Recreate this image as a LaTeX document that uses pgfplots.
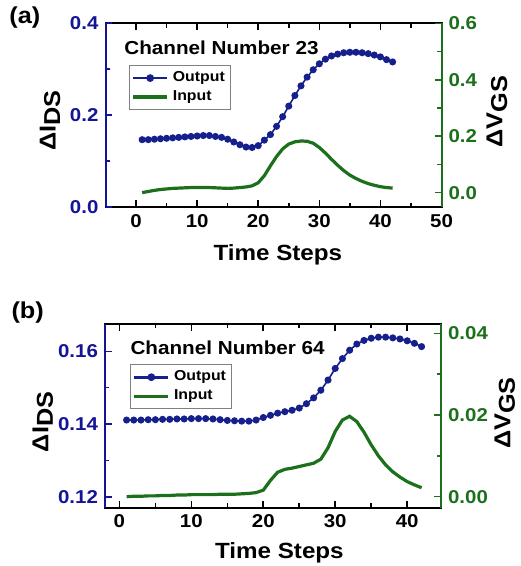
\documentclass[border=0pt]{standalone}
\usepackage{fontspec}
\setmainfont{Liberation Sans}[FakeStretch=1.1]
\usepackage{pgfplots}
\pgfplotsset{compat=1.18}
\definecolor{oblue}{RGB}{22,32,140}
\definecolor{ogreen}{RGB}{28,112,28}
\definecolor{spblue}{RGB}{20,20,150}

\tikzset{
  lab/.style={font=\fontsize{11}{13}\selectfont\bfseries},
  plab/.style={font=\fontsize{11.5}{13}\selectfont\bfseries},
  ylab/.style={rotate=90, font=\fontsize{11.5}{13}\selectfont\bfseries},
  ttl/.style={anchor=west, font=\fontsize{9.4}{11}\selectfont\bfseries},
  tk/.style={line width=0.8pt},
}
\pgfplotsset{
  panel/.style={scale only axis, width=168pt, height=92pt, clip=false,
    tick align=inside, major tick length=0.12cm, minor tick length=0.07cm,
    tick style={black, line width=0.8pt},
    /pgf/number format/assume math mode=true,
    tick label style={font=\fontsize{9.3}{10}\selectfont\bfseries},
    scaled ticks=false,
  },
  leftax/.style={panel, axis line style={line width=1pt},
    xtick pos=both, xticklabel pos=lower, ytick pos=left,
    yticklabel style={text=spblue},
  },
  rightax/.style={panel, hide x axis, axis line style={draw=none},
    ytick pos=right, yticklabel pos=right,
    tick style={ogreen, line width=0.8pt},
    yticklabel style={text=ogreen},
    legend cell align=left,
    legend style={draw=gray, line width=0.5pt, fill=white, inner sep=1pt,
      font=\fontsize{7.2}{9}\selectfont\bfseries, row sep=-1pt},
  },
  p1/.style={/pgf/number format/fixed, /pgf/number format/fixed zerofill, /pgf/number format/precision=1},
  p2/.style={/pgf/number format/fixed, /pgf/number format/fixed zerofill, /pgf/number format/precision=2},
  outp/.style={oblue, line width=0.8pt, mark=*, mark size=1.35pt},
  outleg/.style={oblue, line width=1.4pt, mark=*, mark size=1.2pt},
  inp/.style={ogreen, line width=1.6pt},
}

\begin{document}
\begin{tikzpicture}
\useasboundingbox (-52.75pt,-179.35pt) rectangle (207.25pt,103.65pt);

% ---------- (a) ----------
\begin{axis}[leftax, xmin=-5, xmax=50, ymin=0, ymax=0.4,
  xtick={0,10,...,50}, minor xtick={5,15,...,45},
  ytick={0,0.2,0.4}, minor ytick={0.1,0.3}, y tick label style={p1}]
\addplot[outp] coordinates {
(1,0.147) (2,0.147) (3,0.148) (4,0.149) (5,0.150) (6,0.151) (7,0.152) (8,0.153)
(9,0.154) (10,0.155) (11,0.156) (12,0.156) (13,0.154) (14,0.152) (15,0.148) (16,0.142)
(17,0.136) (18,0.131) (19,0.130) (20,0.134) (21,0.146) (22,0.158) (23,0.176) (24,0.197)
(25,0.220) (26,0.243) (27,0.264) (28,0.283) (29,0.299) (30,0.312) (31,0.322) (32,0.329)
(33,0.333) (34,0.336) (35,0.337) (36,0.337) (37,0.336) (38,0.334) (39,0.331) (40,0.327)
(41,0.321) (42,0.316)};
\pgfplotsinvokeforeach{0,10,20,30,40,50}{\draw[tk] (axis cs:#1,0) -- ([yshift=3.4pt]axis cs:#1,0) (axis cs:#1,0.4) -- ([yshift=-3.4pt]axis cs:#1,0.4);}
\pgfplotsinvokeforeach{5,15,25,35,45}{\draw[tk] (axis cs:#1,0) -- ([yshift=2.2pt]axis cs:#1,0) (axis cs:#1,0.4) -- ([yshift=-2.2pt]axis cs:#1,0.4);}
\pgfplotsinvokeforeach{0,0.2,0.4}{\draw[tk, spblue] (axis cs:-5,#1) -- ([xshift=3.4pt]axis cs:-5,#1);}
\pgfplotsinvokeforeach{0.1,0.3}{\draw[tk, spblue] (axis cs:-5,#1) -- ([xshift=2.2pt]axis cs:-5,#1);}
\node[ttl] at (rel axis cs:0.035,0.866) {Channel Number 23};
\node[lab] at (rel axis cs:0.513,-0.26) {Time Steps};
\node[ylab] at (rel axis cs:-0.165,0.47) {ΔI\raisebox{-0.2em}{DS}};
\node[plab] at (rel axis cs:-0.24,1.03) {(a)};
\end{axis}
\begin{axis}[rightax, xmin=-5, xmax=50, ymin=-0.052, ymax=0.6,
  ytick={0,0.2,0.4,0.6}, minor ytick={0.1,0.3,0.5}, y tick label style={p1},
  legend style={at={(rel axis cs:0.07,0.773)}, anchor=north west}]
\draw[spblue, line width=1pt] (rel axis cs:0,0) -- (rel axis cs:0,1);
\draw[ogreen, line width=1pt] (rel axis cs:1,0) -- (rel axis cs:1,1);
\pgfplotsinvokeforeach{0,0.2,0.4,0.6}{\draw[tk, ogreen] (axis cs:50,#1) -- ([xshift=-3.4pt]axis cs:50,#1);}
\pgfplotsinvokeforeach{0.1,0.3,0.5}{\draw[tk, ogreen] (axis cs:50,#1) -- ([xshift=-2.2pt]axis cs:50,#1);}
\addlegendimage{outleg}
\addlegendentry{Output}
\addplot[inp] coordinates {
(1,0.000) (2,0.004) (3,0.008) (4,0.011) (5,0.013) (6,0.015) (7,0.016) (8,0.017)
(9,0.018) (10,0.018) (11,0.018) (12,0.018) (13,0.017) (14,0.016) (15,0.015) (16,0.016)
(17,0.018) (18,0.020) (19,0.024) (20,0.035) (21,0.060) (22,0.095) (23,0.128) (24,0.155)
(25,0.172) (26,0.180) (27,0.183) (28,0.182) (29,0.175) (30,0.160) (31,0.140) (32,0.118)
(33,0.097) (34,0.078) (35,0.062) (36,0.050) (37,0.040) (38,0.032) (39,0.026) (40,0.021)
(41,0.018) (42,0.016)};
\addlegendentry{Input}
\node[ylab] at (rel axis cs:1.165,0.519) {ΔV\raisebox{-0.2em}{GS}};
\end{axis}

% ---------- (b) ----------
\begin{axis}[leftax, at={(-0.25pt,-150.2pt)}, xmin=-2, xmax=44.7, ymin=0.117, ymax=0.1676,
  xtick={0,10,...,40}, minor xtick={5,15,...,35},
  ytick={0.12,0.14,0.16}, minor ytick={0.13,0.15}, y tick label style={p2}]
\addplot[outp] coordinates {
(1,0.1411) (2,0.1411) (3,0.1411) (4,0.1412) (5,0.1412) (6,0.1413) (7,0.1413) (8,0.1414)
(9,0.1414) (10,0.1415) (11,0.1415) (12,0.1415) (13,0.1414) (14,0.1412) (15,0.1410) (16,0.1409)
(17,0.1408) (18,0.1408) (19,0.1411) (20,0.1418) (21,0.1424) (22,0.1430) (23,0.1434) (24,0.1438)
(25,0.1444) (26,0.1456) (27,0.1472) (28,0.1493) (29,0.1521) (30,0.1553) (31,0.1580) (32,0.1603)
(33,0.1620) (34,0.1630) (35,0.1636) (36,0.1639) (37,0.1639) (38,0.1637) (39,0.1634) (40,0.1629)
(41,0.1622) (42,0.1613)};
\pgfplotsinvokeforeach{0,10,20,30,40}{\draw[tk] (axis cs:#1,0.117) -- ([yshift=3.4pt]axis cs:#1,0.117) (axis cs:#1,0.1676) -- ([yshift=-3.4pt]axis cs:#1,0.1676);}
\pgfplotsinvokeforeach{5,15,25,35}{\draw[tk] (axis cs:#1,0.117) -- ([yshift=2.2pt]axis cs:#1,0.117) (axis cs:#1,0.1676) -- ([yshift=-2.2pt]axis cs:#1,0.1676);}
\pgfplotsinvokeforeach{0.12,0.14,0.16}{\draw[tk, spblue] (axis cs:-2,#1) -- ([xshift=3.4pt]axis cs:-2,#1);}
\pgfplotsinvokeforeach{0.13,0.15}{\draw[tk, spblue] (axis cs:-2,#1) -- ([xshift=2.2pt]axis cs:-2,#1);}
\node[ttl] at (rel axis cs:0.055,0.868) {Channel Number 64};
\node[lab] at (rel axis cs:0.519,-0.246) {Time Steps};
\node[ylab] at (rel axis cs:-0.185,0.466) {ΔI\raisebox{-0.2em}{DS}};
\node[plab] at (rel axis cs:-0.23,1.063) {(b)};
\end{axis}
\begin{axis}[rightax, at={(-0.25pt,-150.2pt)}, xmin=-2, xmax=44.7, ymin=-0.0027, ymax=0.0424,
  ytick={0,0.02,0.04}, minor ytick={0.01,0.03}, y tick label style={p2},
  legend style={at={(rel axis cs:0.075,0.78)}, anchor=north west}]
\draw[spblue, line width=1pt] (rel axis cs:0,0) -- (rel axis cs:0,1);
\draw[ogreen, line width=1pt] (rel axis cs:1,0) -- (rel axis cs:1,1);
\pgfplotsinvokeforeach{0,0.02,0.04}{\draw[tk, ogreen] (axis cs:44.7,#1) -- ([xshift=-3.4pt]axis cs:44.7,#1);}
\pgfplotsinvokeforeach{0.01,0.03}{\draw[tk, ogreen] (axis cs:44.7,#1) -- ([xshift=-2.2pt]axis cs:44.7,#1);}
\addlegendimage{outleg}
\addlegendentry{Output}
\addplot[inp] coordinates {
(1,0.0000) (2,0.0001) (3,0.0001) (4,0.0002) (5,0.0002) (6,0.0003) (7,0.0003) (8,0.0004)
(9,0.0004) (10,0.0005) (11,0.0005) (12,0.0005) (13,0.0005) (14,0.0006) (15,0.0006) (16,0.0006)
(17,0.0007) (18,0.0008) (19,0.0010) (20,0.0016) (21,0.0040) (22,0.0060) (23,0.0067) (24,0.0070)
(25,0.0074) (26,0.0078) (27,0.0082) (28,0.0092) (29,0.0120) (30,0.0160) (31,0.0188) (32,0.0197)
(33,0.0184) (34,0.0158) (35,0.0127) (36,0.0100) (37,0.0078) (38,0.0061) (39,0.0048) (40,0.0037)
(41,0.0029) (42,0.0022)};
\addlegendentry{Input}
\node[ylab] at (rel axis cs:1.19,0.514) {ΔV\raisebox{-0.2em}{GS}};
\end{axis}
\end{tikzpicture}
\end{document}
